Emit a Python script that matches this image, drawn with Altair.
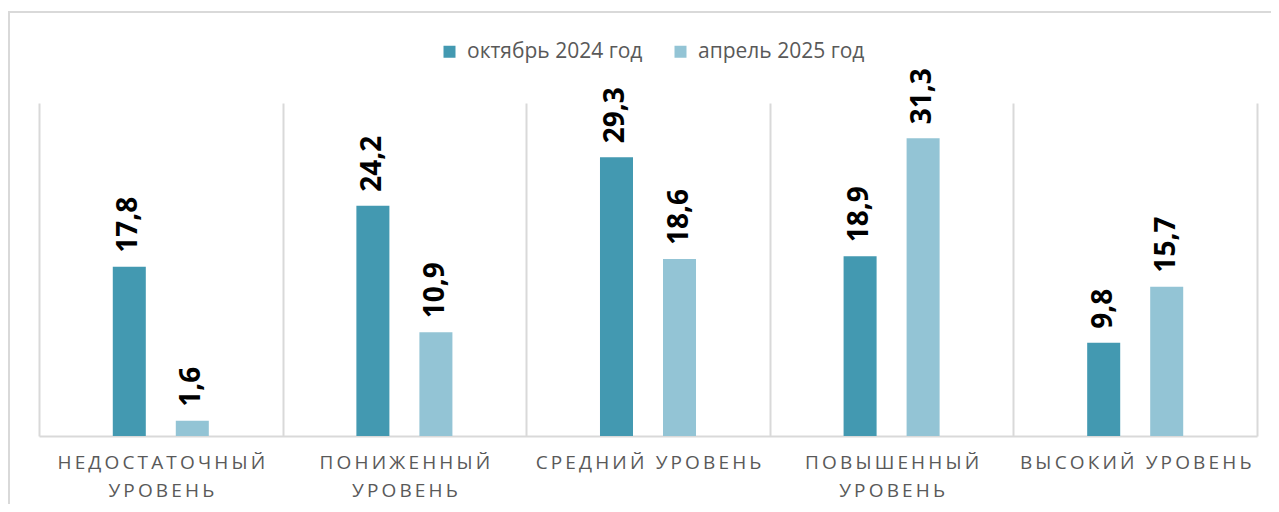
import altair as alt
import pandas as pd

categories = ["НЕДОСТАТОЧНЫЙ УРОВЕНЬ", "ПОНИЖЕННЫЙ УРОВЕНЬ", "СРЕДНИЙ УРОВЕНЬ",
              "ПОВЫШЕННЫЙ УРОВЕНЬ", "ВЫСОКИЙ УРОВЕНЬ"]
series = ["октябрь 2024 год", "апрель 2025 год"]
oct_2024 = [17.8, 24.2, 29.3, 18.9, 9.8]
apr_2025 = [1.6, 10.9, 18.6, 31.3, 15.7]
colors = ["#4399B1", "#93C4D5"]

rows = []
for c, a, b in zip(categories, oct_2024, apr_2025):
    rows.append({"cat": c, "series": series[0], "value": a})
    rows.append({"cat": c, "series": series[1], "value": b})
df = pd.DataFrame(rows)

TS = "\u2009"
sp = "replace({s}, /(.)(?=.)/g, '$1" + TS + "')"
lbl = ("length(datum.label) > 16 ? ["
       + sp.format(s="slice(datum.label, 0, indexof(datum.label, ' '))") + ", "
       + sp.format(s="slice(datum.label, indexof(datum.label, ' ') + 1)") + "] : "
       + sp.format(s="datum.label"))

FONT = "Open Sans"
# empty slots on both sides of each group keep the two bars near the group centre
offset_domain = ["_left"] + series + ["_right"]

base = alt.Chart(df).encode(
    x=alt.X("cat:N", sort=categories, title=None,
            scale=alt.Scale(paddingInner=0, paddingOuter=0),
            axis=alt.Axis(labelAngle=0, ticks=False, grid=True, tickBand="extent",
                          gridColor="#D9D9D9", gridWidth=2,
                          domainColor="#D9D9D9", domainWidth=2,
                          labelFont=FONT, labelFontSize=19, labelColor="#595959",
                          labelPadding=17, labelLineHeight=28, labelBaseline="top",
                          labelLimit=400, labelOverlap=False,
                          labelExpr=lbl)),
    xOffset=alt.XOffset("series:N",
                        scale=alt.Scale(domain=offset_domain, paddingInner=0.476,
                                        paddingOuter=0.171)),
)

bars = base.mark_bar().encode(
    y=alt.Y("value:Q", scale=alt.Scale(domain=[0, 35]), axis=None),
    color=alt.Color("series:N", sort=series,
                    scale=alt.Scale(domain=series, range=colors),
                    legend=alt.Legend(title=None, orient="none", direction="horizontal",
                                      legendX=400, legendY=-62,
                                      symbolType="square", symbolSize=144,
                                      symbolStrokeWidth=0, labelOffset=7,
                                      columnPadding=27, labelLimit=400,
                                      labelFont=FONT, labelFontSize=21,
                                      labelColor="#595959")),
)

labels = base.mark_text(angle=270, align="left", baseline="middle", dx=14,
                        font=FONT, fontSize=28, fontWeight="bold", color="#000000"
                        ).transform_calculate(
    txt="replace(format(datum.value, '.1f'), '.', ',')"
).encode(
    y=alt.Y("value:Q"),
    text="txt:N",
)

border = alt.Chart(alt.Data(values=[{}])).mark_rect(
    fill=None, stroke="#D9D9D9", strokeWidth=2
).encode(
    x=alt.value(-30), x2=alt.value(1260), y=alt.value(-91), y2=alt.value(420)
)

chart = alt.layer(border, bars, labels).properties(
    width=1218, height=333,
    autosize=alt.AutoSizeParams(type="none"),
    padding={"left": 31, "top": 95, "right": 14, "bottom": 68},
).configure_view(stroke=None)

chart.save("out.html", embed_options={"renderer": "svg", "actions": False})
